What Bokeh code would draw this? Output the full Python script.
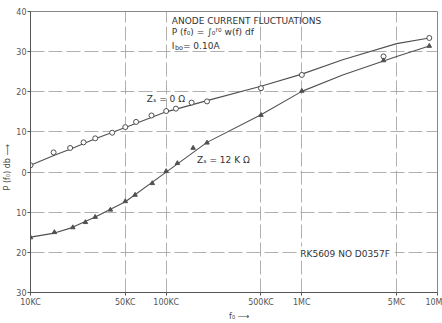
import math
from bokeh.plotting import figure
from bokeh.models import Label, FixedTicker, Range1d
from bokeh.embed import file_html
from bokeh.resources import INLINE

# frequencies in KC
curve_f = [10, 15, 20, 30, 50, 100, 200, 500, 1000, 2000, 5000, 8700]
curve_z0 = [1.7, 4.2, 5.8, 8.3, 11.1, 15.0, 17.8, 21.4, 24.4, 28.0, 32.0, 33.4]
curve_z12 = [-16.2, -15.2, -13.9, -11.2, -7.4, 0.0, 7.4, 14.3, 20.1, 24.2, 28.8, 31.4]

pts_f_z0 = [10, 14.8, 19.6, 24.6, 30, 40, 50, 60, 78, 100, 118, 154, 200, 500, 1000, 4000, 8700]
pts_db_z0 = [1.7, 4.9, 6.0, 7.4, 8.4, 9.8, 11.2, 12.5, 14.1, 15.2, 15.8, 17.3, 17.6, 20.9, 24.2, 28.8, 33.4]

pts_f_z12 = [10, 15, 20.5, 25.4, 30, 38.8, 50, 59, 79, 100, 121, 158, 200, 500, 1000, 4000, 8700]
pts_db_z12 = [-16.3, -15.0, -13.8, -12.5, -11.2, -9.4, -7.3, -5.7, -2.8, 0.2, 2.2, 6.0, 7.3, 14.2, 20.2, 27.8, 31.4]

x_ticks = [10, 50, 100, 500, 1000, 5000, 10000]
x_tick_labels = ["10KC", "50KC", "100KC", "500KC", "1MC", "5MC", "10M"]
y_ticks = [-30, -20, -10, 0, 10, 20, 30, 40]
y_tick_labels = ["30", "20", "10", "0", "10", "20", "30", "40"]

INK = "#505050"
GRID = "#9c9c9c"
FONT = "DejaVu Sans"

p = figure(width=442, height=323, x_axis_type="log",
           x_range=Range1d(10, 10000), y_range=Range1d(-30, 40),
           output_backend="svg", toolbar_location=None,
           min_border_left=30, min_border_right=5, min_border_top=11, min_border_bottom=30)
p.background_fill_color = "white"
p.border_fill_color = "white"
p.outline_line_color = "#888888"
p.outline_line_width = 1

p.xaxis.ticker = FixedTicker(ticks=x_ticks)
p.yaxis.ticker = FixedTicker(ticks=y_ticks)
p.xaxis.major_label_overrides = {t: l for t, l in zip(x_ticks, x_tick_labels)}
p.yaxis.major_label_overrides = {t: l for t, l in zip(y_ticks, y_tick_labels)}
for ax in (p.xaxis, p.yaxis):
    ax.axis_line_color = "#555555"
    ax.major_tick_line_color = "#555555"
    ax.major_tick_out = 3
    ax.major_tick_in = 0
    ax.minor_tick_out = 0
    ax.minor_tick_in = 0
    ax.major_label_text_font = FONT
    ax.major_label_text_font_size = "8px"
    ax.major_label_text_color = "#555555"
    ax.axis_label_text_font = FONT
    ax.axis_label_text_font_size = "8px"
    ax.axis_label_text_font_style = "normal"
    ax.axis_label_text_color = "#444444"
p.xaxis.major_label_standoff = 2
p.yaxis.major_label_standoff = 1
p.xaxis.axis_label = "\u00a0\u00a0\u00a0\u00a0f₀ ⟶"
p.yaxis.axis_label = "P (f₀) db ⟶" + "\u00a0" * 12
p.xaxis.axis_label_standoff = 2
p.yaxis.axis_label_standoff = 1

p.xgrid.grid_line_color = GRID
p.ygrid.grid_line_color = GRID
p.xgrid.grid_line_dash = "14 4"
p.ygrid.grid_line_dash = "14 4"
p.xgrid.grid_line_alpha = 0.8
p.ygrid.grid_line_alpha = 0.8

p.line(curve_f, curve_z0, line_color=INK, line_width=1.1)
p.line(curve_f, curve_z12, line_color=INK, line_width=1.1)
p.scatter(pts_f_z0, pts_db_z0, marker="circle", size=5, line_color=INK,
          fill_color="white", line_width=1)
p.scatter(pts_f_z12, pts_db_z12, marker="triangle", size=4.5, line_color=INK,
          fill_color=INK)

def lab(x, y, text, size="9px", **kw):
    opts = dict(text_font=FONT, text_font_size=size, text_color="#333333",
                text_baseline="middle", text_align="left")
    opts.update(kw)
    p.add_layout(Label(x=x, y=y, text=text, **opts))

lab(110, 37.7, "ANODE CURRENT FLUCTUATIONS")
lab(110, 34.8, "P (f₀) = ∫₀ᶠ⁰ w(f) df")
lab(110, 31.5, "I")
lab(116, 30.9, "bo", size="6.5px")
lab(133, 31.5, "= 0.10A")
lab(72, 18.1, "Zₛ = 0 Ω")
lab(169, 3.0, "Zₛ = 12 K Ω")
lab(941, -20.3, "RK5609  NO D0357F", background_fill_color="white",
    padding=2)

open("out.html", "w").write(file_html(p, INLINE))
